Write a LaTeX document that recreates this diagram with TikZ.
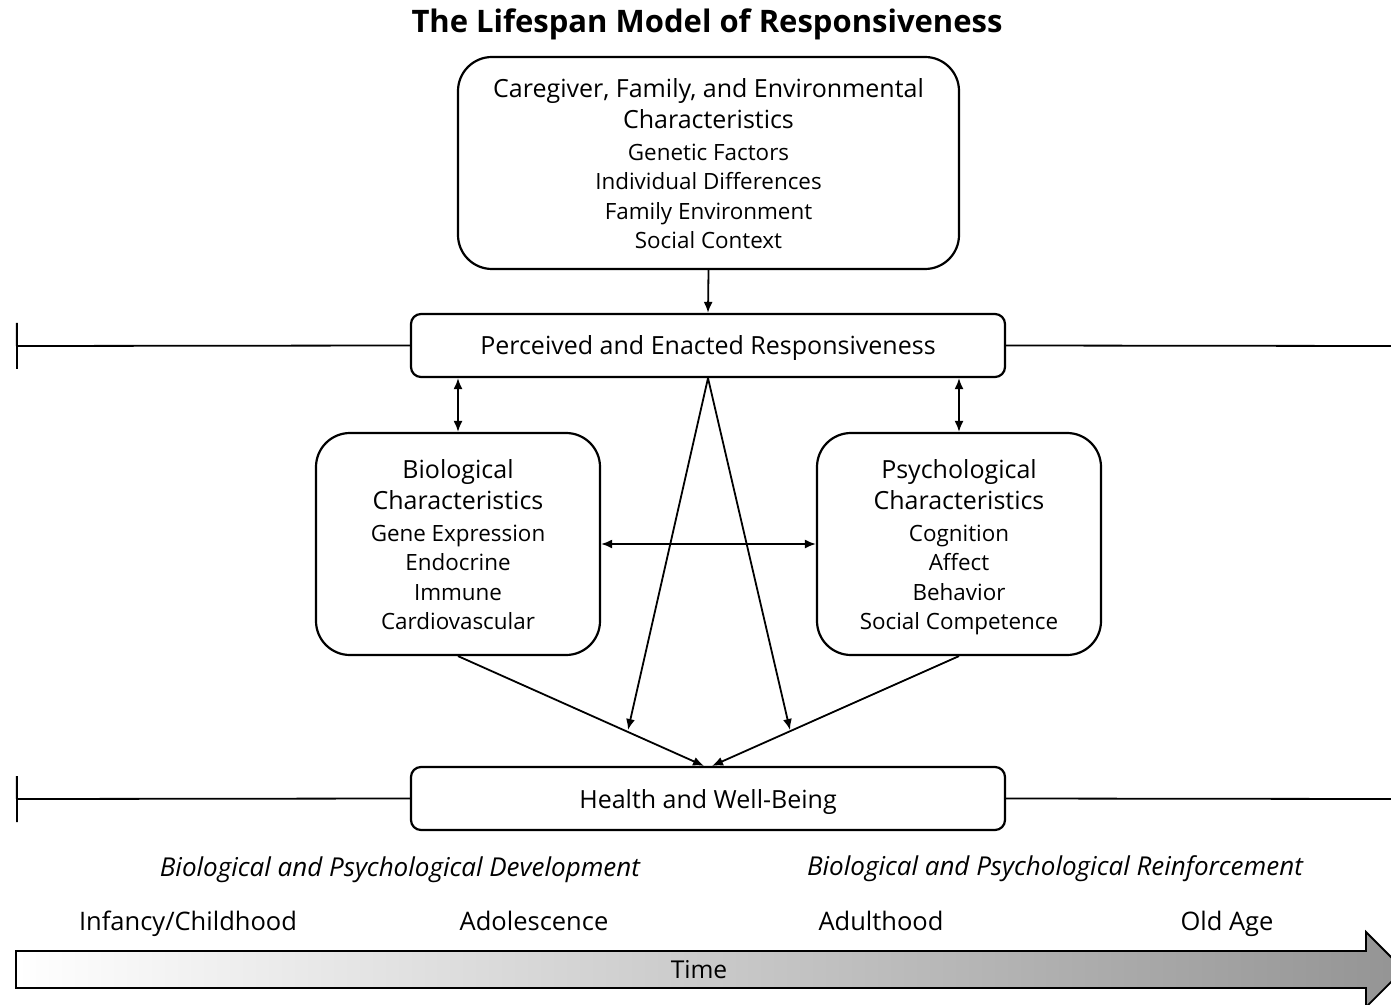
\documentclass[tikz,border=0pt]{standalone}
\usepackage{fontspec}
\setmainfont{Open Sans}
\usetikzlibrary{arrows.meta}

\begin{document}
\begin{tikzpicture}[x=0.5pt,y=-0.5pt,
    box/.style={draw,line width=1.1pt,rounded corners=17pt,align=center,inner sep=0pt,
        font=\fontsize{11.2}{14.75}\selectfont},
    flat/.style={draw,line width=1.1pt,rounded corners=5pt,inner sep=0pt,text depth=0pt,
        minimum width=297pt,minimum height=31.5pt,font=\fontsize{12.5}{15}\selectfont},
    arr/.style={line width=0.9pt,-{Latex[length=5.5pt,width=4.5pt]}},
    both/.style={line width=0.9pt,{Latex[length=5.5pt,width=4.5pt]}-{Latex[length=5.5pt,width=4.5pt]}},
    span/.style={line width=0.9pt,{Bar[width=23pt]}-},
    lbl/.style={font=\fontsize{12.75}{15}\selectfont,inner sep=0pt,anchor=base}]
    \newcommand{\hdfont}{\fontsize{12.5}{16.5}\selectfont}

    \useasboundingbox (0,0) rectangle (1391,1005);

    \node[font=\fontsize{15.5}{18}\selectfont\bfseries,inner sep=0pt,anchor=base] (title) at (707,33) {The Lifespan Model of Responsiveness};

    \node[box,minimum width=250.5pt,minimum height=106pt] (care) at (708.5,163)
        {\hdfont\rule{0pt}{12.5pt}Caregiver, Family, and Environmental\\[1pt]
         \hdfont Characteristics\\[1pt]
         Genetic Factors\\ Individual Differences\\ Family Environment\\ Social Context\vphantom{p}};
    \node[flat] (resp) at (708,345.5) {Perceived and Enacted Responsiveness};
    \node[box,minimum width=142pt,minimum height=111pt] (bio) at (458,544)
        {\hdfont\rule{0pt}{12.5pt}Biological\\[1pt] \hdfont Characteristics\\[1pt]
         Gene Expression\\ Endocrine\\ Immune\\ Cardiovascular\vphantom{p}};
    \node[box,minimum width=142pt,minimum height=111pt] (psych) at (959,544)
        {\hdfont\rule{0pt}{12.5pt}Psychological\\[1pt] \hdfont Characteristics\\[1pt]
         Cognition\\ Affect\\ Behavior\\ Social Competence};
    \node[flat] (health) at (708,798.5) {Health and Well-Being};

    \coordinate (rspL) at (16,346);
    \coordinate (rspR) at (1391,346);
    \coordinate (hlthL) at (16,799);
    \coordinate (hlthR) at (1391,799);
    \coordinate (hitL) at (628,730);
    \coordinate (hitR) at (790,730);

    \draw[span] (rspL) -- (resp.west);
    \draw[line width=0.9pt] (resp.east) -- (rspR);
    \draw[span] (hlthL) -- (health.west);
    \draw[line width=0.9pt] (health.east) -- (hlthR);

    \draw[arr] (care.south) -- (resp.north);
    \draw[both] (resp.south -| bio.north) -- (bio.north);
    \draw[both] (resp.south -| psych.north) -- (psych.north);
    \draw[both] (bio.east) -- (psych.west);
    \draw[arr] (resp.south) -- (hitL);
    \draw[arr] (resp.south) -- (hitR);
    \draw[arr] (bio.south) -- ([xshift=-2pt]health.north);
    \draw[arr] (psych.south) -- ([xshift=2pt]health.north);

    \node[lbl,font=\fontsize{13}{15}\selectfont\itshape] (devel) at (400,876) {Biological and Psychological Development};
    \node[lbl,font=\fontsize{13}{15}\selectfont\itshape] (reinf) at (1055,875) {Biological and Psychological Reinforcement};

    \node[lbl] (infancy) at (188,930) {Infancy/Childhood};
    \node[lbl] (adol) at (534,930) {Adolescence};
    \node[lbl] (adult) at (881,930) {Adulthood};
    \node[lbl] (oldage) at (1227,930) {Old Age};

    \filldraw[line width=0.9pt,left color=white,right color=black!42]
        (16,951) -- (1366,951) -- (1366,932) -- (1403.5,969.5) -- (1366,1007) -- (1366,988) -- (16,988) -- cycle;
    \node[lbl,font=\fontsize{12.3}{14}\selectfont] (time) at (699,978) {Time};

\end{tikzpicture}
\end{document}
